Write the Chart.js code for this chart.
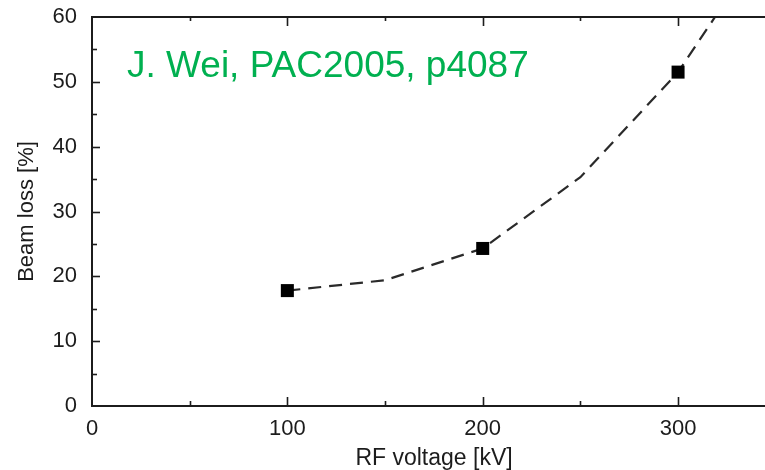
<!DOCTYPE html>
<html>
<head>
<meta charset="utf-8">
<script src="https://cdn.jsdelivr.net/npm/chart.js@4/dist/chart.umd.min.js"></script>
<style>
  html, body { margin: 0; padding: 0; background: #fff; overflow: hidden; }
  #c { width: 765px; height: 470px; display: block; }
</style>
</head>
<body>
<canvas id="c" width="765" height="470"></canvas>
<script>
// Simulated beam loss vs RF voltage (dashed curve) and tracked points (squares)
const curveVoltage = [100, 150, 200, 250, 300, 350];
const curveLoss = [17.8, 19.4, 24.3, 35.3, 51.5, 74.0];
const pointVoltage = [100, 200, 300];
const pointLoss = [17.8, 24.3, 51.5];
const xTickLabels = [0, 100, 200, 300];
const yTickLabels = [0, 10, 20, 30, 40, 50, 60];
const noteText = 'J. Wei, PAC2005, p4087';
const xTitle = 'RF voltage [kV]';
const yTitle = 'Beam loss [%]';

const FONT = '"Liberation Sans", Arial, sans-serif';
const INK = '#1c1c1c';

// inward tick marks on left, bottom and top axes, plus the top frame line
const frameTicks = {
  id: 'frameTicks',
  afterDatasetsDraw(chart) {
    const { ctx, chartArea: a, scales: { x, y } } = chart;
    ctx.save();
    ctx.strokeStyle = INK;
    ctx.lineWidth = 2;
    ctx.beginPath();
    ctx.moveTo(a.left - 1, a.top);
    ctx.lineTo(a.right + 1, a.top);
    ctx.stroke();
    ctx.lineWidth = 1.6;
    for (let v = 50; v <= x.max; v += 50) {
      const px = Math.round(x.getPixelForValue(v)) + 0.5;
      const major = v % 100 === 0;
      ctx.beginPath();
      ctx.moveTo(px, a.bottom);
      ctx.lineTo(px, a.bottom - (major ? 9 : 5));
      ctx.moveTo(px, a.top);
      ctx.lineTo(px, a.top + (major ? 9 : 4));
      ctx.stroke();
    }
    for (let v = 5; v < 60; v += 5) {
      const py = Math.round(y.getPixelForValue(v)) + 0.5;
      const major = v % 10 === 0;
      ctx.beginPath();
      ctx.moveTo(a.left, py);
      ctx.lineTo(a.left + (major ? 8 : 5), py);
      ctx.stroke();
    }
    ctx.restore();
  }
};

// note in the upper left of the plot and the x-axis caption
const labelsPlugin = {
  id: 'labelsPlugin',
  afterDraw(chart) {
    const { ctx } = chart;
    ctx.save();
    ctx.fillStyle = '#00b050';
    ctx.font = '37px ' + FONT;
    ctx.textBaseline = 'alphabetic';
    ctx.textAlign = 'left';
    ctx.fillText(noteText, 127, 77);
    ctx.fillStyle = INK;
    ctx.font = '23px ' + FONT;
    ctx.textAlign = 'center';
    ctx.fillText(xTitle, 434, 465);
    ctx.restore();
  }
};

new Chart(document.getElementById('c'), {
  type: 'line',
  data: {
    datasets: [
      {
        data: curveVoltage.map((v, i) => ({ x: v, y: curveLoss[i] })),
        borderColor: '#2a2a2a',
        borderWidth: 2.2,
        borderDash: [13, 8],
        pointRadius: 0,
        fill: false,
        tension: 0,
        order: 1
      },
      {
        data: pointVoltage.map((v, i) => ({ x: v, y: pointLoss[i] })),
        showLine: false,
        pointStyle: 'rect',
        pointRadius: 9.2,
        pointBackgroundColor: '#000',
        pointBorderWidth: 0,
        order: 0
      }
    ]
  },
  options: {
    responsive: false,
    animation: false,
    layout: { autoPadding: false, padding: { left: 0, top: 17, right: 0, bottom: 0 } },
    plugins: { legend: { display: false }, tooltip: { enabled: false } },
    scales: {
      x: {
        type: 'linear',
        min: 0,
        max: 344.5,
        afterFit(s) { s.height = 64; s.paddingLeft = 0; s.paddingRight = 0; },
        afterBuildTicks(s) { s.ticks = xTickLabels.map(v => ({ value: v })); },
        grid: { display: true, drawOnChartArea: false, drawTicks: false },
        border: { display: true, color: INK, width: 2 },
        ticks: { color: INK, font: { family: FONT, size: 22 }, padding: 10, maxRotation: 0 }
      },
      y: {
        type: 'linear',
        min: 0,
        max: 60,
        afterFit(s) { s.width = 92; s.paddingTop = 0; s.paddingBottom = 0; },
        afterBuildTicks(s) { s.ticks = yTickLabels.map(v => ({ value: v })); },
        grid: { display: true, drawOnChartArea: false, drawTicks: false },
        border: { display: true, color: INK, width: 2 },
        ticks: { color: INK, font: { family: FONT, size: 22 }, padding: 15 },
        title: {
          display: true,
          text: yTitle,
          color: INK,
          font: { family: FONT, size: 22 },
          padding: { top: 14, bottom: 0 }
        }
      }
    }
  },
  plugins: [frameTicks, labelsPlugin]
});
</script>
</body>
</html>
